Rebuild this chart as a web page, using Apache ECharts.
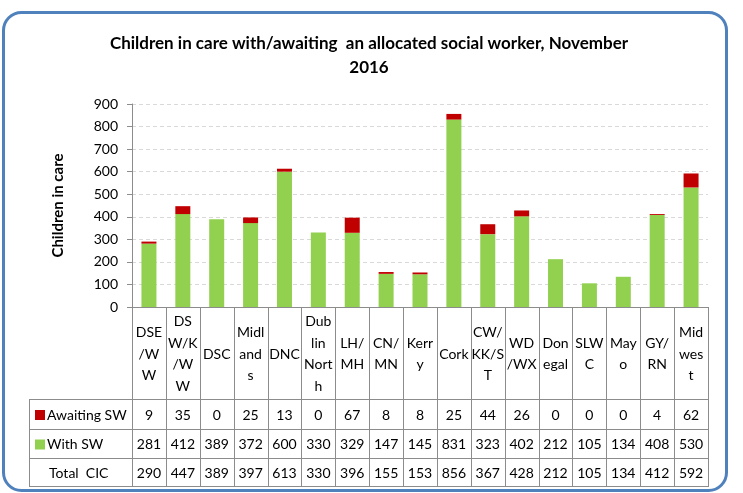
<!DOCTYPE html>
<html>
<head>
<meta charset="utf-8">
<script src="https://cdn.jsdelivr.net/npm/echarts@6/dist/echarts.min.js"></script>
<style>
html,body{margin:0;padding:0;background:#fff;}
#c{width:743px;height:493px;}
</style>
</head>
<body>
<div id="c"></div>
<script>
// ---- data ----
var categories = ['DSE/WW','DSW/K/WW','DSC','Midlands','DNC','Dublin North','LH/MH','CN/MN','Kerry','Cork','CW/KK/ST','WD/WX','Donegal','SLWC','Mayo','GY/RN','Midwest'];
var categoryLabels = ['DSE\n/W\nW','DS\nW/K\n/W\nW','DSC','Midl\nand\ns','DNC','Dub\nlin\nNort\nh','LH/\nMH','CN/\nMN','Kerr\ny','Cork','CW/\nKK/S\nT','WD\n/WX','Don\negal','SLW\nC','May\no','GY/\nRN','Mid\nwes\nt'];
var awaitingSW = [9,35,0,25,13,0,67,8,8,25,44,26,0,0,0,4,62];
var withSW = [281,412,389,372,600,330,329,147,145,831,323,402,212,105,134,408,530];
var totalCIC = [290,447,389,397,613,330,396,155,153,856,367,428,212,105,134,412,592];
var yTicks = [0,100,200,300,400,500,600,700,800,900];

// ---- layout ----
var W = 743, H = 493;
var gL = 132, gR = 708, gT = 104, gB = 307;
var colW = (gR - gL) / categories.length;
var font = 'Lato, Carlito, "Open Sans", sans-serif';
var rowTop = 399, rowY = [399, 429, 458, 486];
var tableLeft = 29;
var lineColor = '#8c8c8c';

var chart = echarts.init(document.getElementById('c'), null, {renderer: 'canvas'});

var g = [];
// outer rounded border
g.push({type:'rect', shape:{x:3.5, y:12.5, width:723, height:478, r:18}, style:{fill:'none', stroke:'#4F81BD', lineWidth:3}, z:100});
// vertical lines
for (var i = 0; i <= categories.length; i++) {
  var x = Math.round(gL + i * colW) + 0.5;
  g.push({type:'line', shape:{x1:x, y1:gB, x2:x, y2:rowY[3]}, style:{stroke:lineColor, lineWidth:1}});
}
g.push({type:'line', shape:{x1:tableLeft+0.5, y1:rowTop, x2:tableLeft+0.5, y2:rowY[3]}, style:{stroke:lineColor, lineWidth:1}});
// horizontal lines
rowY.forEach(function(y){
  g.push({type:'line', shape:{x1:tableLeft, y1:y+0.5, x2:gR+1, y2:y+0.5}, style:{stroke:lineColor, lineWidth:1}});
});
// category labels
categoryLabels.forEach(function(lbl, i){
  g.push({type:'text', x: gL + (i+0.5)*colW, y: (gB + rowTop)/2 + 1,
    style:{text:lbl, font:'14px '+font, fill:'#000', align:'center', verticalAlign:'middle', lineHeight:21.7}});
});
// rows
var rows = [awaitingSW, withSW, totalCIC];
rows.forEach(function(arr, r){
  var cy = (rowY[r] + rowY[r+1]) / 2 + 1;
  arr.forEach(function(v, i){
    g.push({type:'text', x: gL + (i+0.5)*colW, y: cy,
      style:{text:String(v), font:'14px '+font, fill:'#000', align:'center', verticalAlign:'middle'}});
  });
});
// row headers
var rowNames = ['Awaiting SW','With SW','Total  CIC'];
var rowColors = ['#C00000','#92D050',null];
rowNames.forEach(function(n, r){
  var cy = (rowY[r] + rowY[r+1]) / 2 + 1;
  if (rowColors[r]) {
    g.push({type:'rect', shape:{x:35, y:cy-5, width:10, height:10}, style:{fill:rowColors[r]}});
  }
  g.push({type:'text', x: rowColors[r] ? 47 : 49, y: cy,
    style:{text:n, font:'14px '+font, fill:'#000', align:'left', verticalAlign:'middle'}});
});

chart.setOption({
  animation: false,
  backgroundColor: '#fff',
  title: {
    text: 'Children in care with/awaiting  an allocated social worker, November\n2016',
    left: 364, top: 27, textAlign: 'center',
    textStyle: {fontFamily: font, fontSize: 17, fontWeight: 'bold', color: '#000', lineHeight: 24}
  },
  grid: {left: gL, right: W - gR, top: gT, bottom: H - gB, containLabel: false},
  xAxis: {
    type: 'category', data: categories,
    axisLine: {show: true, lineStyle: {color: lineColor}},
    axisTick: {show: false}, axisLabel: {show: false}
  },
  yAxis: {
    type: 'value', min: yTicks[0], max: yTicks[yTicks.length-1], interval: 100,
    name: 'Children in care', nameLocation: 'middle', nameGap: 66, nameRotate: 90,
    nameTextStyle: {fontFamily: font, fontSize: 15, fontWeight: 'bold', color: '#000'},
    axisLine: {show: true, lineStyle: {color: lineColor}},
    axisTick: {show: true, length: 5, lineStyle: {color: lineColor}},
    axisLabel: {fontFamily: font, fontSize: 14, color: '#000', margin: 14},
    splitLine: {show: true, lineStyle: {type: [4, 3], color: '#d9d9d9'}}
  },
  series: [
    {name: 'With SW', type: 'bar', stack: 't', data: withSW, barWidth: 15, itemStyle: {color: '#92D050'}},
    {name: 'Awaiting SW', type: 'bar', stack: 't', data: awaitingSW, barWidth: 15, itemStyle: {color: '#C00000'}}
  ],
  graphic: g
});
</script>
</body>
</html>
